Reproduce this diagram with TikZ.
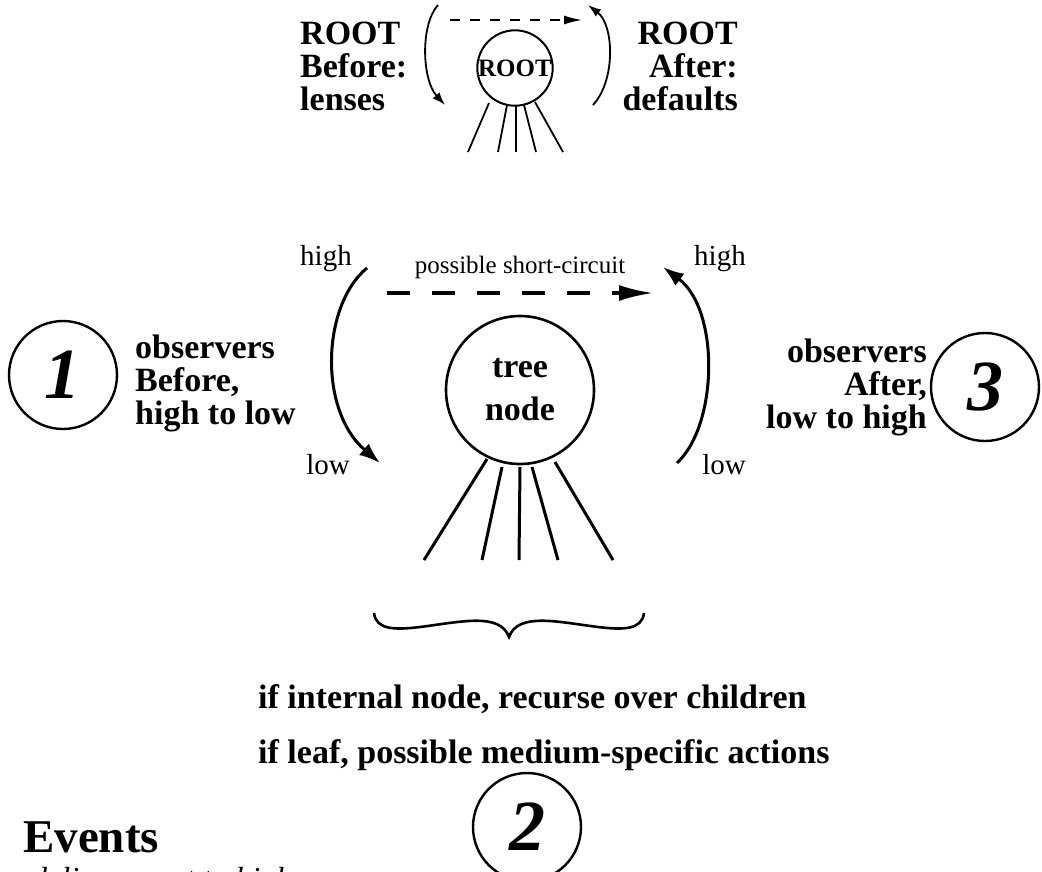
\documentclass[tikz,border=0pt]{standalone}
\usepackage{fontspec}
\setmainfont{Liberation Serif}
\usetikzlibrary{arrows.meta}
\begin{document}
\begin{tikzpicture}[x=1pt,y=-1pt,
  boldtxt/.style={font=\fontsize{34}{33}\selectfont\bfseries, inner sep=0pt},
  plaintxt/.style={font=\fontsize{29}{30}\selectfont, inner sep=0pt},
  numcirc/.style={draw, circle, line width=2.4pt, minimum size=108pt, inner sep=0pt,
    font=\fontsize{72}{72}\selectfont\bfseries\itshape},
  mainarc/.style={line width=3pt, -{Latex[length=21pt,width=15pt]}},
  toparc/.style={line width=1.8pt, -{Latex[length=13pt,width=9pt]}},
  maindash/.style={line width=3.2pt, dash pattern=on 23pt off 22pt, -{Latex[length=34pt,width=16pt]}},
  topdash/.style={line width=1.6pt, dash pattern=on 10pt off 10pt, -{Latex[length=18pt,width=9pt]}},
  branch/.style={line width=3pt},
  topbranch/.style={line width=1.8pt}
]
\useasboundingbox (0,0) rectangle (1042,871);
\clip (0,0) rectangle (1042,871);

% ---------- top: ROOT ----------
\node[draw, circle, line width=2pt, minimum size=74pt, inner sep=0pt,
  font=\fontsize{25}{25}\selectfont\bfseries] (root) at (515,68) {ROOT};
\node[boldtxt, anchor=base west, align=left] (rootbefore) at (300,110) {ROOT\\Before:\\lenses};
\node[boldtxt, anchor=base east, align=right] (rootafter) at (738,110) {ROOT\\After:\\defaults};

\coordinate (tl1) at (438,5);   \coordinate (tl2) at (445,105);
\coordinate (tr1) at (593,105); \coordinate (tr2) at (588,5);
\draw[toparc] (tl1) .. controls (420,25) and (422,80) .. (tl2);
\draw[toparc] (tr1) .. controls (616,80) and (614,25) .. (tr2);
\coordinate (td1) at (450,20); \coordinate (td2) at (582,20);
\draw[topdash] (td1) -- (td2);

\foreach \sx/\sy/\ex in {489/103/468, 507/105/498, 516/106/516, 524/105/536, 535/102/563}
  \draw[topbranch] (\sx,\sy) -- (\ex,152);

% ---------- middle: tree node ----------
\node[draw, circle, line width=2.6pt, minimum size=148pt, inner sep=0pt, align=center,
  font=\fontsize{34}{43}\selectfont\bfseries] (tree) at (520,390) {tree\\node};

\coordinate (la1) at (367,268); \coordinate (la2) at (380,463);
\draw[mainarc] (la1) .. controls (322,305) and (318,410) .. (la2);
\coordinate (ra1) at (677,463); \coordinate (ra2) at (663,267);
\draw[mainarc] (ra1) .. controls (718,425) and (720,310) .. (ra2);

\coordinate (sc1) at (387,293); \coordinate (sc2) at (653,293);
\draw[maindash] (sc1) -- (sc2);
\node[font=\fontsize{25}{25}\selectfont, inner sep=0pt, anchor=base] (sclabel) at (520,273) {possible short-circuit};

\node[plaintxt, anchor=base] (hl) at (326,265) {high};
\node[plaintxt, anchor=base] (hr) at (720,265) {high};
\node[plaintxt, anchor=base] (ll) at (328,474) {low};
\node[plaintxt, anchor=base] (lr) at (724,474) {low};

\foreach \sx/\sy/\ex in {487/459/424, 502/467/482, 520/467/519, 532/467/558, 555/462/613}
  \draw[branch] (\sx,\sy) -- (\ex,560);

% brace
\draw[line width=2.6pt] (374,613) .. controls (376,630) and (395,630) .. (420,627)
  .. controls (460,622) and (500,612) .. (509,637)
  .. controls (518,612) and (558,622) .. (598,627)
  .. controls (623,630) and (642,630) .. (644,613);

% ---------- side circles ----------
\node[numcirc] (c1) at (63,375) {1};
\node[boldtxt, anchor=base west, align=left] (obsbefore) at (135,424) {observers\\Before,\\high to low};
\node[numcirc] (c3) at (985,387) {3};
\node[boldtxt, anchor=base east, align=right] (obsafter) at (927,428) {observers\\After,\\low to high};

% ---------- bottom ----------
\node[boldtxt, anchor=base west] (rec) at (258,708) {if internal node, recurse over children};
\node[boldtxt, anchor=base west] (leaf) at (258,763) {if leaf, possible medium-specific actions};
\node[numcirc] (c2) at (527,827) {2};

\node[font=\fontsize{47}{47}\selectfont\bfseries, inner sep=0pt, anchor=base west] (events) at (23,852) {Events};
\node[font=\fontsize{32}{32}\selectfont\itshape, inner sep=0pt, anchor=base west] (deliv) at (31,889) {delivery root to high};
\end{tikzpicture}
\end{document}
